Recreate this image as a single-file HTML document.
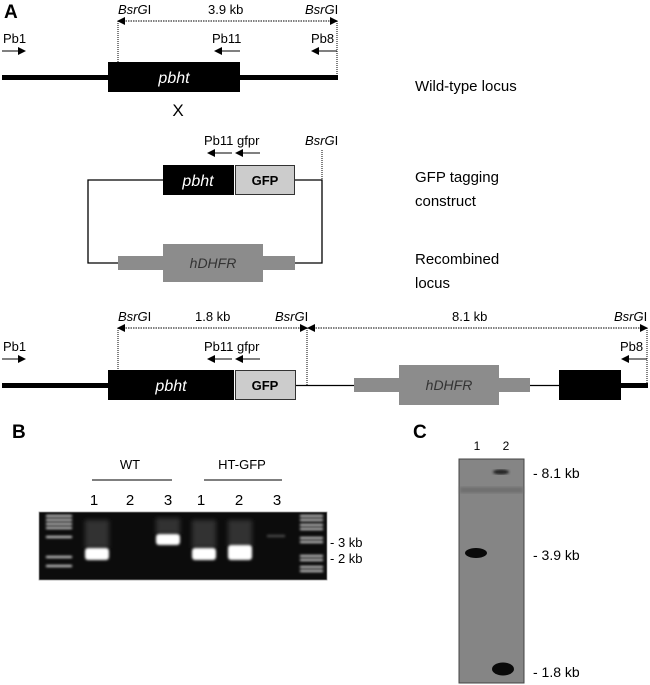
<!DOCTYPE html>
<html><head><style>body{margin:0;background:#fff}svg{display:block}text{font-family:"Liberation Sans",Arial,sans-serif}</style></head><body>
<svg width="650" height="685" viewBox="0 0 650 685" xmlns="http://www.w3.org/2000/svg">
<defs>
<marker id="ar" markerWidth="8" markerHeight="8" refX="7" refY="4" orient="auto" markerUnits="userSpaceOnUse"><path d="M0,0 L8,4 L0,8z" fill="#000"/></marker>
<marker id="al" markerWidth="8" markerHeight="8" refX="1" refY="4" orient="auto" markerUnits="userSpaceOnUse"><path d="M8,0 L0,4 L8,8z" fill="#000"/></marker>
<filter id="bl"><feGaussianBlur stdDeviation="1.2"/></filter>
<filter id="bl2"><feGaussianBlur stdDeviation="2.5"/></filter>
</defs>
<g font-size="13">
<text x="4" y="18" font-size="19" font-weight="bold">A</text>
<!-- wild type -->
<text x="118" y="14" font-style="italic">BsrG<tspan font-style="normal">I</tspan></text>
<text x="208" y="14">3.9 kb</text>
<text x="305" y="14" font-style="italic">BsrG<tspan font-style="normal">I</tspan></text>
<line x1="118" y1="21" x2="337" y2="21" stroke="#000" stroke-dasharray="1.5,1" marker-start="url(#al)" marker-end="url(#ar)"/>
<line x1="118" y1="21" x2="118" y2="62" stroke="#000" stroke-dasharray="1,1"/>
<line x1="337" y1="21" x2="337" y2="77" stroke="#000" stroke-dasharray="1,1"/>
<text x="3" y="43">Pb1</text><line x1="2" y1="51" x2="25" y2="51" stroke="#000" marker-end="url(#ar)"/>
<text x="212" y="43">Pb11</text><line x1="240" y1="51" x2="215" y2="51" stroke="#000" marker-end="url(#ar)"/>
<text x="311" y="43">Pb8</text><line x1="337" y1="51" x2="312" y2="51" stroke="#000" marker-end="url(#ar)"/>
<rect x="2" y="75" width="336" height="5" fill="#000"/>
<rect x="108" y="62" width="132" height="30" fill="#000"/>
<text x="174" y="83" fill="#fff" font-size="16" font-style="italic" text-anchor="middle">pbht</text>
<text x="178" y="116" font-size="17" text-anchor="middle">X</text>
<text x="415" y="91" font-size="15">Wild-type locus</text>
<!-- construct -->
<text x="204" y="145">Pb11</text><text x="237" y="145">gfpr</text>
<line x1="232" y1="153" x2="208" y2="153" stroke="#000" marker-end="url(#ar)"/>
<line x1="260" y1="153" x2="236" y2="153" stroke="#000" marker-end="url(#ar)"/>
<text x="305" y="145" font-style="italic">BsrG<tspan font-style="normal">I</tspan></text>
<line x1="322" y1="150" x2="322" y2="180" stroke="#000" stroke-dasharray="1,1"/>
<path d="M163,180 H88 V263 H122 M295,263 H322 V180 H295" fill="none" stroke="#000" stroke-width="1.3"/>
<rect x="163" y="165" width="71" height="30" fill="#000"/>
<text x="198" y="186" fill="#fff" font-size="16" font-style="italic" text-anchor="middle">pbht</text>
<rect x="235.5" y="165.5" width="59" height="29" fill="#ccc" stroke="#333"/>
<text x="265" y="185" font-size="13" font-weight="bold" text-anchor="middle">GFP</text>
<rect x="118" y="256" width="177" height="14" fill="#8c8c8c"/>
<rect x="163" y="244" width="100" height="38" fill="#8c8c8c"/>
<text x="213" y="268" fill="#333" font-size="14" font-style="italic" text-anchor="middle">hDHFR</text>
<text x="415" y="182" font-size="15">GFP tagging</text>
<text x="415" y="206" font-size="15">construct</text>
<text x="415" y="264" font-size="15">Recombined</text>
<text x="415" y="288" font-size="15">locus</text>
<!-- recombined -->
<text x="118" y="321" font-style="italic">BsrG<tspan font-style="normal">I</tspan></text>
<text x="195" y="321">1.8 kb</text>
<text x="275" y="321" font-style="italic">BsrG<tspan font-style="normal">I</tspan></text>
<text x="452" y="321">8.1 kb</text>
<text x="614" y="321" font-style="italic">BsrG<tspan font-style="normal">I</tspan></text>
<line x1="118" y1="328" x2="307" y2="328" stroke="#000" stroke-dasharray="1.5,1" marker-start="url(#al)" marker-end="url(#ar)"/>
<line x1="308" y1="328" x2="647" y2="328" stroke="#000" stroke-dasharray="1.5,1" marker-start="url(#al)" marker-end="url(#ar)"/>
<line x1="118" y1="328" x2="118" y2="370" stroke="#000" stroke-dasharray="1,1"/>
<line x1="307" y1="328" x2="307" y2="385" stroke="#000" stroke-dasharray="1,1"/>
<line x1="647" y1="328" x2="647" y2="385" stroke="#000" stroke-dasharray="1,1"/>
<text x="3" y="351">Pb1</text><line x1="2" y1="359" x2="25" y2="359" stroke="#000" marker-end="url(#ar)"/>
<text x="204" y="351">Pb11</text><text x="237" y="351">gfpr</text>
<line x1="232" y1="359" x2="208" y2="359" stroke="#000" marker-end="url(#ar)"/>
<line x1="260" y1="359" x2="236" y2="359" stroke="#000" marker-end="url(#ar)"/>
<text x="620" y="351">Pb8</text><line x1="647" y1="359" x2="622" y2="359" stroke="#000" marker-end="url(#ar)"/>
<rect x="2" y="383" width="108" height="5" fill="#000"/>
<line x1="295" y1="385.5" x2="560" y2="385.5" stroke="#000" stroke-width="1.3"/>
<rect x="620" y="383" width="28" height="5" fill="#000"/>
<rect x="108" y="370" width="126" height="30" fill="#000"/>
<text x="171" y="391" fill="#fff" font-size="16" font-style="italic" text-anchor="middle">pbht</text>
<rect x="235.5" y="370.5" width="60" height="29" fill="#ccc" stroke="#333"/>
<text x="265" y="390" font-size="13" font-weight="bold" text-anchor="middle">GFP</text>
<rect x="354" y="378" width="176" height="14" fill="#8c8c8c"/>
<rect x="399" y="365" width="100" height="40" fill="#8c8c8c"/>
<text x="449" y="390" fill="#333" font-size="14" font-style="italic" text-anchor="middle">hDHFR</text>
<rect x="559" y="370" width="62" height="30" fill="#000"/>
<!-- B -->
<text x="12" y="438" font-size="19" font-weight="bold">B</text>
<text x="130" y="469" text-anchor="middle">WT</text>
<line x1="92" y1="480" x2="172" y2="480" stroke="#555" stroke-width="1.5"/>
<text x="242" y="469" text-anchor="middle">HT-GFP</text>
<line x1="204" y1="480" x2="282" y2="480" stroke="#555" stroke-width="1.5"/>
<g font-size="15" text-anchor="middle">
<text x="94" y="505">1</text><text x="130" y="505">2</text><text x="168" y="505">3</text>
<text x="201" y="505">1</text><text x="239" y="505">2</text><text x="277" y="505">3</text></g>
<rect x="39" y="512" width="288" height="68" fill="#0c0c0c" stroke="#999" stroke-width="0.8"/>
<g fill="#ddd" filter="url(#bl)">
<rect x="46" y="515" width="26" height="2"/><rect x="46" y="519" width="26" height="2"/><rect x="46" y="523" width="26" height="2"/><rect x="46" y="527" width="26" height="2"/><rect x="46" y="536" width="26" height="2"/><rect x="46" y="556" width="26" height="2"/><rect x="46" y="565" width="26" height="2"/>
<rect x="300" y="515" width="23" height="2"/><rect x="300" y="519" width="23" height="2"/><rect x="300" y="524" width="23" height="2"/><rect x="300" y="528" width="23" height="2"/><rect x="300" y="537" width="23" height="2"/><rect x="300" y="541" width="23" height="2"/><rect x="300" y="555" width="23" height="2"/><rect x="300" y="559" width="23" height="2"/><rect x="300" y="566" width="23" height="2"/><rect x="300" y="570" width="23" height="2"/>
</g>
<g fill="#333" filter="url(#bl2)"><rect x="85" y="520" width="24" height="28"/><rect x="192" y="520" width="24" height="28"/><rect x="228" y="520" width="24" height="26"/><rect x="156" y="518" width="24" height="16"/></g>
<g fill="#fff" filter="url(#bl)">
<rect x="85" y="548" width="24" height="12" rx="3"/>
<rect x="156" y="534" width="24" height="11" rx="3"/>
<rect x="192" y="548" width="24" height="12" rx="3"/>
<rect x="228" y="545" width="24" height="15" rx="3"/>
<rect x="267" y="535" width="18" height="2" fill="#555"/>
</g>
<text x="330" y="547">- 3 kb</text>
<text x="330" y="563">- 2 kb</text>
<!-- C -->
<text x="413" y="438" font-size="19" font-weight="bold">C</text>
<text x="477" y="450" font-size="12" text-anchor="middle">1</text>
<text x="506" y="450" font-size="12" text-anchor="middle">2</text>
<rect x="459" y="459" width="65" height="224" fill="#858585" stroke="#444"/>
<rect x="460" y="487" width="63" height="6" fill="#6f6f6f" filter="url(#bl)"/>
<ellipse cx="501" cy="472" rx="8" ry="2.5" fill="#222" filter="url(#bl)"/>
<ellipse cx="476" cy="553" rx="11" ry="5" fill="#0a0a0a"/>
<ellipse cx="503" cy="669" rx="11" ry="6.5" fill="#0a0a0a"/>
<text x="533" y="478" font-size="14">- 8.1 kb</text>
<text x="533" y="560" font-size="14">- 3.9 kb</text>
<text x="533" y="677" font-size="14">- 1.8 kb</text>
</g>
</svg>
</body></html>
